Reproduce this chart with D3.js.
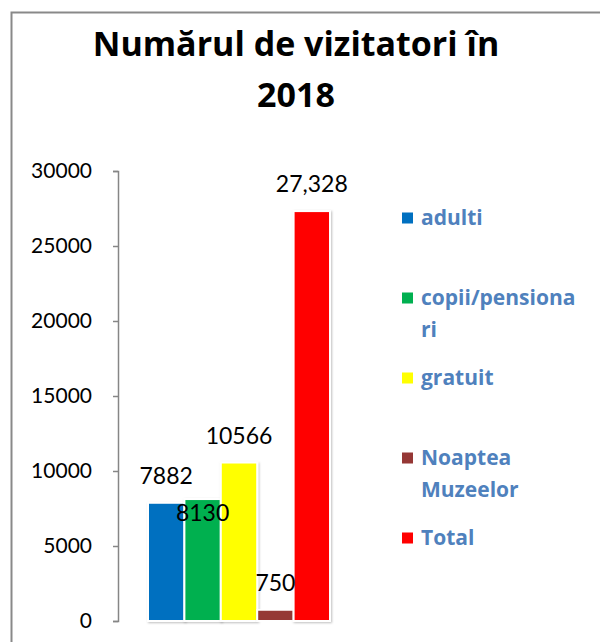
<!DOCTYPE html>
<html>
<head>
<meta charset="utf-8">
<script src="https://cdn.jsdelivr.net/npm/d3@7"></script>
<style>
  html, body { margin: 0; padding: 0; background: #fff; }
  svg { display: block; font-family: Lato, "Open Sans", sans-serif; }
</style>
</head>
<body>
<svg id="chart" width="600" height="642"></svg>
<script>
const categories = ["adulti", "copii/pensionari", "gratuit", "Noaptea Muzeelor", "Total"];
const values = [7882, 8130, 10566, 750, 27328];
const valueLabels = ["7882", "8130", "10566", "750", "27,328"];
const legendLines = [["adulti"], ["copii/pensiona", "ri"], ["gratuit"], ["Noaptea", "Muzeelor"], ["Total"]];
const colors = ["#0070C0", "#00B050", "#FFFF00", "#953735", "#FF0000"];
const yTicks = [0, 5000, 10000, 15000, 20000, 25000, 30000];
const titleLines = ["Numărul de vizitatori în", "2018"];

// the green label sits inside its bar in the original
const labelInside = new Set(["copii/pensionari"]);

let svg = d3.select("#chart");

// outer frame, runs past the right and bottom edge
svg.append("rect")
    .attr("x", 11.5).attr("y", 12.5)
    .attr("width", 640).attr("height", 680)
    .attr("fill", "none")
    .attr("stroke", "#898989")
    .attr("stroke-width", 2);

svg.append("g")
    .selectAll("text")
    .data(titleLines)
    .join("text")
    .attr("x", 296)
    .attr("y", (d, i) => 56 + i * 51)
    .attr("text-anchor", "middle")
    .attr("font-family", "'Open Sans', sans-serif")
    .attr("font-size", 34)
    .attr("font-weight", "bold")
    .attr("fill", "#000")
    .text((d) => d);

let y = d3.scaleLinear().domain([0, 30000]).range([621, 171]);
let x = d3.scaleBand().domain(categories).range([148, 330]).padding(0);

let axis = d3.axisLeft(y).tickValues(yTicks).tickSize(5).tickPadding(21).tickFormat(d3.format("d"));
let gy = svg.append("g").attr("transform", "translate(118,0)").call(axis);
gy.select(".domain").attr("stroke", "#868686").attr("stroke-width", 1.5);
gy.selectAll(".tick line").attr("stroke", "#868686").attr("stroke-width", 1.5);
gy.selectAll(".tick text")
    .attr("font-family", "Lato, sans-serif")
    .attr("font-size", 21)
    .attr("fill", "#000");

let defs = svg.append("defs");
defs.append("filter").attr("id", "shadow")
    .attr("x", "-20%").attr("y", "-5%").attr("width", "140%").attr("height", "110%")
    .append("feDropShadow")
    .attr("dx", 1).attr("dy", 1).attr("stdDeviation", 1.2)
    .attr("flood-color", "#000").attr("flood-opacity", 0.25);

svg.append("g")
    .selectAll("rect")
    .data(categories)
    .join("rect")
    .attr("x", (d) => x(d))
    .attr("y", (d, i) => y(values[i]))
    .attr("width", x.bandwidth())
    .attr("height", (d, i) => y(0) - y(values[i]))
    .attr("fill", (d, i) => colors[i])
    .attr("stroke", "#fff")
    .attr("stroke-width", 2)
    .attr("filter", "url(#shadow)");

svg.append("g")
    .selectAll("text")
    .data(categories)
    .join("text")
    .attr("x", (d) => x(d) + x.bandwidth() / 2)
    .attr("y", (d, i) => labelInside.has(d) ? y(values[i]) + 22 : y(values[i]) - 19)
    .attr("text-anchor", "middle")
    .attr("font-size", 23)
    .attr("fill", "#000")
    .text((d, i) => valueLabels[i]);

// legend
let legend = svg.append("g");
categories.forEach((c, i) => {
    let cy = 218 + i * 80;
    legend.append("rect")
        .attr("x", 402).attr("y", cy - 5.5)
        .attr("width", 11).attr("height", 11)
        .attr("fill", colors[i]);
    legend.append("text")
        .attr("x", 421)
        .attr("y", cy + 7)
        .attr("font-family", "'Open Sans', sans-serif")
        .attr("font-size", 21)
        .attr("font-weight", "bold")
        .attr("fill", "#4F81BD")
        .selectAll("tspan")
        .data(legendLines[i])
        .join("tspan")
        .attr("x", 421)
        .attr("dy", (d, j) => j === 0 ? 0 : 32)
        .text((d) => d);
});
</script>
</body>
</html>
